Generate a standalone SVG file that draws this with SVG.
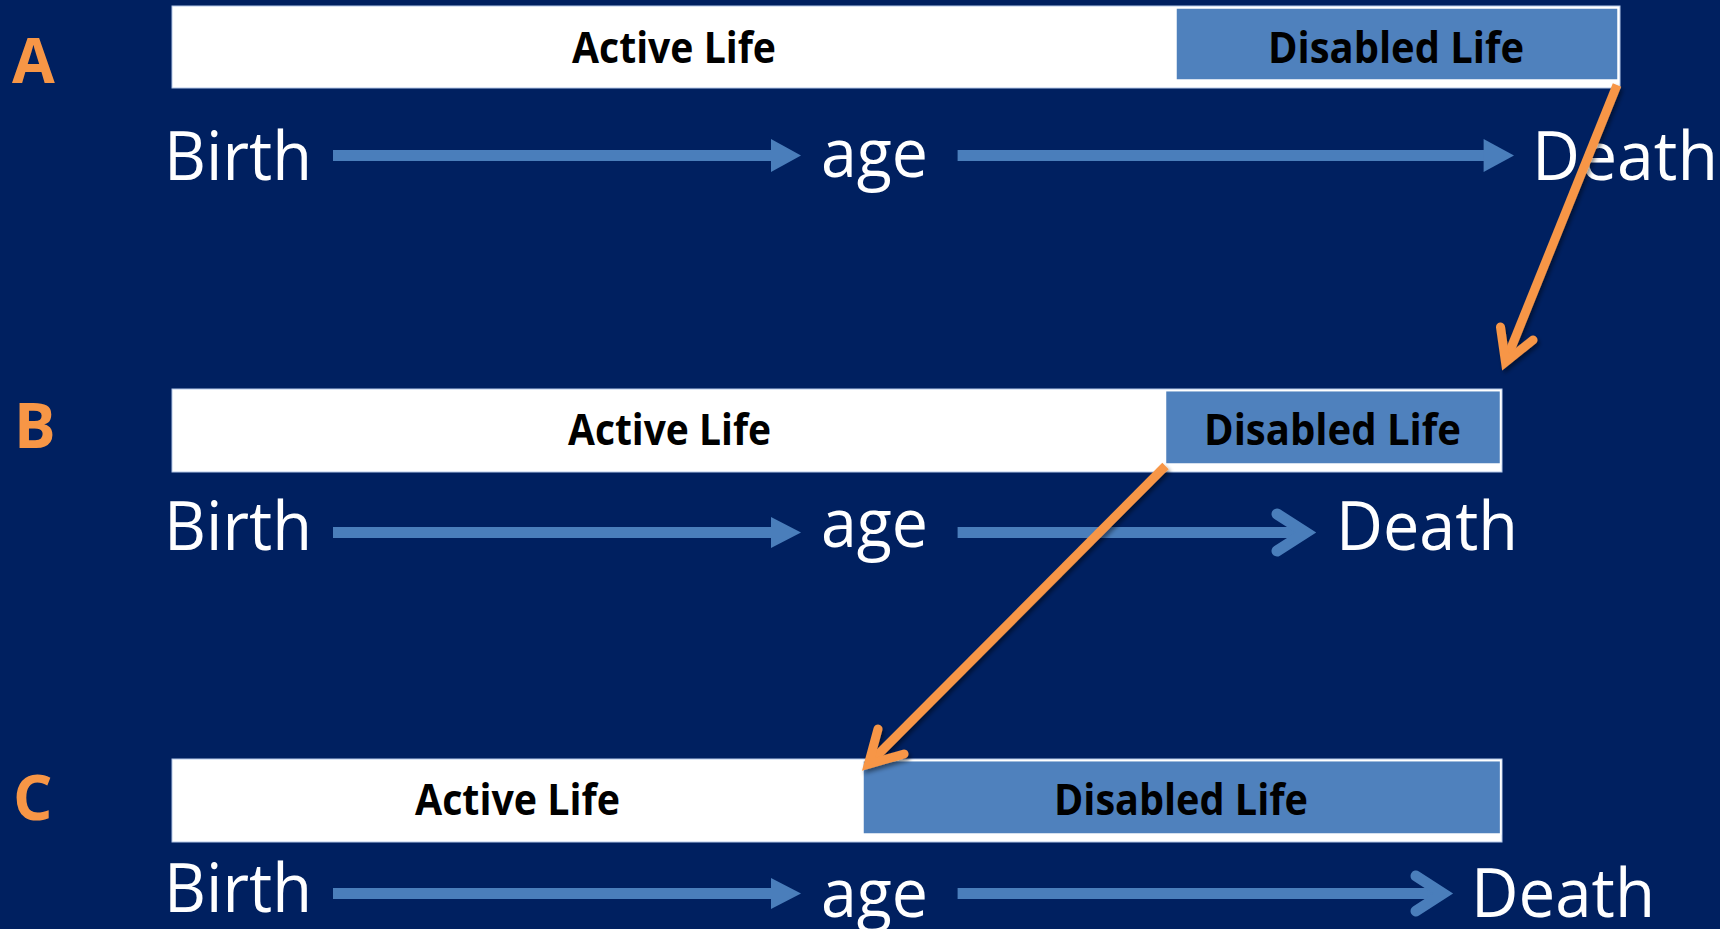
<svg xmlns="http://www.w3.org/2000/svg" width="1720" height="929" viewBox="0 0 1720 929">
<defs>
<style>
.bg{fill:#002060}
.wbox{fill:#FFFFFF;stroke:#B4C7E7;stroke-width:1}
.bbox{fill:#4F81BD;stroke:#FFFFFF;stroke-width:1.5}
.lbl{font-family:"Open Sans","Liberation Sans",sans-serif;font-weight:700;font-size:43px;fill:#000000}
.row{font-family:"Open Sans","Liberation Sans",sans-serif;font-weight:700;font-size:62px;fill:#F79646}
.word{font-family:"Open Sans","Liberation Sans",sans-serif;font-size:67px;fill:#FFFFFF}
.shaft{stroke:#4A7EBB;stroke-width:11;fill:none}
.head{fill:#4A7EBB}
.chev{stroke:#4A7EBB;stroke-width:11;fill:none;stroke-linecap:round;stroke-linejoin:miter;stroke-miterlimit:10}
.orange{stroke:#F79646;stroke-width:9;fill:none;stroke-linecap:round;stroke-linejoin:miter;stroke-miterlimit:10}
</style>
<filter id="sh" x="-20%" y="-20%" width="140%" height="140%">
<feDropShadow dx="2" dy="3" stdDeviation="2" flood-color="#000000" flood-opacity="0.45"/>
</filter>
</defs>
<rect class="bg" x="0" y="0" width="1720" height="929"/>

<g id="rowA">
<text class="row" x="12" y="83">A</text>
<g id="A-active"><rect class="wbox" x="172" y="6" width="1448" height="82"/>
<text class="lbl" x="572" y="63" textLength="204" lengthAdjust="spacingAndGlyphs">Active Life</text></g>
<g id="A-disabled"><rect class="bbox" x="1176" y="8" width="442" height="72"/>
<text class="lbl" x="1268" y="63" textLength="256" lengthAdjust="spacingAndGlyphs">Disabled Life</text></g>
<g id="A-birth"><text class="word" x="164" y="180" textLength="148" lengthAdjust="spacingAndGlyphs">Birth</text></g>
<g id="A-age"><text class="word" x="821" y="177" textLength="107" lengthAdjust="spacingAndGlyphs">age</text></g>
<g id="A-death"><text class="word" x="1532" y="180" textLength="186" lengthAdjust="spacingAndGlyphs">Death</text></g>
</g>

<g id="rowB">
<text class="row" x="14" y="448">B</text>
<g id="B-active"><rect class="wbox" x="172" y="389" width="1330" height="83"/>
<text class="lbl" x="568" y="445" textLength="203" lengthAdjust="spacingAndGlyphs">Active Life</text></g>
<g id="B-disabled"><rect class="bbox" x="1165.5" y="390.7" width="335" height="73.3"/>
<text class="lbl" x="1204" y="445" textLength="257" lengthAdjust="spacingAndGlyphs">Disabled Life</text></g>
<g id="B-birth"><text class="word" x="164" y="550" textLength="148" lengthAdjust="spacingAndGlyphs">Birth</text></g>
<g id="B-age"><text class="word" x="821" y="547" textLength="107" lengthAdjust="spacingAndGlyphs">age</text></g>
<g id="B-death"><text class="word" x="1336" y="550" textLength="182" lengthAdjust="spacingAndGlyphs">Death</text></g>
</g>

<g id="rowC">
<text class="row" x="13" y="820">C</text>
<g id="C-active"><rect class="wbox" x="172" y="759" width="1330" height="83"/>
<text class="lbl" x="415" y="815" textLength="205" lengthAdjust="spacingAndGlyphs">Active Life</text></g>
<g id="C-disabled"><rect class="bbox" x="863" y="760.7" width="637.6" height="73.3"/>
<text class="lbl" x="1054" y="815" textLength="254" lengthAdjust="spacingAndGlyphs">Disabled Life</text></g>
<g id="C-birth"><text class="word" x="164" y="912" textLength="148" lengthAdjust="spacingAndGlyphs">Birth</text></g>
<g id="C-age"><text class="word" x="821" y="917" textLength="107" lengthAdjust="spacingAndGlyphs">age</text></g>
<g id="C-death"><text class="word" x="1471" y="917" textLength="184" lengthAdjust="spacingAndGlyphs">Death</text></g>
</g>

<g id="connectors">
<line class="shaft" x1="333" y1="155.5" x2="772" y2="155.5"/>
<polygon class="head" points="771,139 801,155.5 771,172"/>
<line class="shaft" x1="957.6" y1="155.5" x2="1485" y2="155.5"/>
<polygon class="head" points="1483.6,139 1514,155.5 1483.6,172"/>

<line class="shaft" x1="333" y1="532.5" x2="772" y2="532.5"/>
<polygon class="head" points="771,517 801,532.5 771,548"/>
<line class="shaft" x1="957.6" y1="532.5" x2="1304" y2="532.5"/>
<polyline class="chev" points="1277,514 1306,532.5 1277,551"/>

<line class="shaft" x1="333" y1="893.5" x2="772" y2="893.5"/>
<polygon class="head" points="771,878 801,893.5 771,909"/>
<line class="shaft" x1="957.6" y1="893.5" x2="1441" y2="893.5"/>
<polyline class="chev" points="1416,876 1443,893.5 1416,911"/>

<g filter="url(#sh)">
<line class="orange" x1="1617" y1="85" x2="1505.5" y2="362" style="stroke-linecap:butt"/>
<polyline class="orange" points="1500.5,327 1505.5,362 1533,340"/>
</g>
<g filter="url(#sh)">
<line class="orange" x1="1165.5" y1="466" x2="868.4" y2="764.3" style="stroke-linecap:butt"/>
<polyline class="orange" points="878,729 868.4,764.3 904,754"/>
</g>
</g>
</svg>
